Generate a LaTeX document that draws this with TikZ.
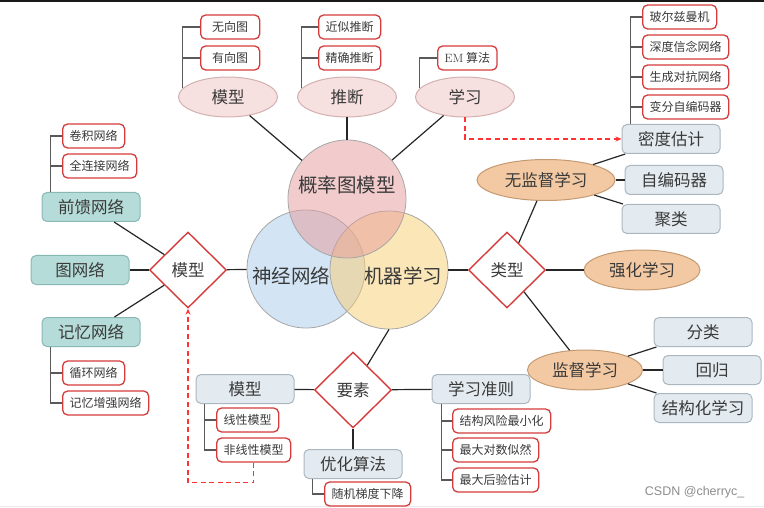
\documentclass[tikz,border=0pt]{standalone}
\usepackage{fontspec}
\setsansfont{Liberation Sans}
\newfontfamily\cjk{Noto Sans CJK SC}
\usetikzlibrary{shapes.geometric,arrows.meta}
\definecolor{redline}{RGB}{214,59,59}
\definecolor{txt}{RGB}{58,58,58}
\definecolor{grayfill}{RGB}{228,235,240}
\definecolor{grayline}{RGB}{170,183,192}
\definecolor{tealfill}{RGB}{181,220,216}
\definecolor{tealline}{RGB}{136,184,180}
\definecolor{peachfill}{RGB}{242,201,163}
\definecolor{peachline}{RGB}{196,154,114}
\definecolor{pinkfill}{RGB}{247,224,224}
\definecolor{pinkline}{RGB}{213,176,176}
\definecolor{vennpink}{RGB}{230,154,154}
\definecolor{vennblue}{RGB}{167,201,234}
\definecolor{vennyellow}{RGB}{247,205,113}
\tikzset{
  leaf/.style={draw=redline, line width=1.3pt, fill=white, rounded corners=5pt,
    anchor=west, inner xsep=7pt, inner ysep=0pt, minimum height=24pt,
    text=txt, font=\cjk\fontsize{12}{14}\selectfont},
  box/.style={draw=grayline, line width=1pt, fill=grayfill, rounded corners=5pt,
    inner sep=0pt, minimum width=98pt, minimum height=29pt,
    text=txt, font=\cjk\fontsize{16.5}{18}\selectfont},
  teal/.style={box, draw=tealline, fill=tealfill},
  oval/.style={ellipse, draw=peachline, line width=1pt, fill=peachfill, inner sep=0pt,
    minimum height=40pt, text=txt, font=\cjk\fontsize{16.5}{18}\selectfont},
  topoval/.style={oval, draw=pinkline, fill=pinkfill, minimum width=99pt},
  diam/.style={diamond, draw=redline, line width=1.4pt, fill=white, inner sep=0pt,
    minimum width=77pt, minimum height=76pt,
    text=txt, font=\cjk\fontsize{16.5}{18}\selectfont},
  venn/.style={circle, draw=black!35, line width=.8pt, fill opacity=.5, minimum size=118pt},
  venntext/.style={text=txt, font=\cjk\fontsize{19.5}{22}\selectfont},
  conn/.style={draw=black!85, line width=1.2pt},
  bracket/.style={draw=black!65, line width=1.3pt},
  dasharrow/.style={draw=red!80, line width=1.2pt, dash pattern=on 5pt off 3.5pt,
    -{Stealth[length=6pt,width=5pt]}},
}
\begin{document}
\begin{tikzpicture}[x=1pt,y=-1pt]
  \useasboundingbox (0,0) rectangle (764,508);
  \fill[black!90] (0,0) rectangle (764,2.3);
  \draw[black!8, line width=.8pt] (0,506) -- (764,506);

  \node[venn, fill=vennblue] (nn) at (306,269) {};
  \node[venn, fill=vennyellow] (ml) at (389,270) {};
  \node[venn, fill=vennpink] (pgm) at (347,199) {};
  \node[venntext] at (347,185) {概率图模型};
  \node[venntext] at (291,276) {神经网络};
  \node[venntext] at (403,276) {机器学习};

  \node[topoval] (topM) at (228,97) {模型};
  \node[topoval] (topI) at (347,97) {推断};
  \node[topoval] (topL) at (465,97) {学习};
  \node[leaf, minimum width=59pt] (undir) at (200,27) {无向图};
  \node[leaf, minimum width=59pt] (dir) at (200,58) {有向图};
  \node[leaf] (approx) at (318,27) {近似推断};
  \node[leaf] (exact) at (318,58) {精确推断};
  \node[leaf, minimum width=58pt] (em) at (437,58) {{\rmfamily EM} 算法};

  \node[box] (dens) at (671,139) {密度估计};
  \node[box] (autoenc) at (674,180) {自编码器};
  \node[box] (clust) at (671,219) {聚类};
  \node[leaf] (boltz) at (642,17) {玻尔兹曼机};
  \node[leaf] (dbn) at (642,47) {深度信念网络};
  \node[leaf] (gan) at (642,77) {生成对抗网络};
  \node[leaf] (vae) at (642,107) {变分自编码器};

  \node[oval, minimum width=138pt, minimum height=41pt] (unsup) at (546,180) {无监督学习};
  \node[diam] (kind) at (507,270) {类型};
  \node[oval, minimum width=116pt] (reinf) at (642,270) {强化学习};
  \node[oval, minimum width=115pt] (sup) at (585,370) {监督学习};
  \node[box] (cls) at (703,332) {分类};
  \node[box] (reg) at (712,370) {回归};
  \node[box] (struct) at (703,408) {结构化学习};

  \node[diam] (nnmodel) at (188,270) {模型};
  \node[teal] (ff) at (91,207) {前馈网络};
  \node[teal] (gnn) at (80,270) {图网络};
  \node[teal] (mem) at (91,332) {记忆网络};
  \node[leaf] (conv) at (62,136) {卷积网络};
  \node[leaf] (fc) at (62,166) {全连接网络};
  \node[leaf] (rnn) at (62,373) {循环网络};
  \node[leaf] (mann) at (62,403) {记忆增强网络};

  \node[diam] (elem) at (353,390) {要素};
  \node[box] (emodel) at (245,389) {模型};
  \node[box] (crit) at (481,389) {学习准则};
  \node[box] (optim) at (353,464) {优化算法};
  \node[leaf] (lin) at (216,420) {线性模型};
  \node[leaf] (nonlin) at (216,450) {非线性模型};
  \node[leaf] (sgd) at (324,494) {随机梯度下降};
  \node[leaf] (srm) at (452,421) {结构风险最小化};
  \node[leaf] (mle) at (452,450) {最大对数似然};
  \node[leaf] (map) at (452,480) {最大后验估计};

  \begin{scope}[conn]
    \draw (topM) -- (pgm);
    \draw (topI) -- (pgm);
    \draw (topL) -- (pgm);
    \draw (unsup) -- (dens);
    \draw (unsup) -- (autoenc);
    \draw (unsup) -- (clust);
    \draw (ml) -- (kind);
    \draw (kind) -- (unsup);
    \draw (kind) -- (reinf);
    \draw (kind) -- (sup);
    \draw (sup) -- (cls);
    \draw (sup) -- (reg);
    \draw (sup) -- (struct);
    \draw (nnmodel) -- (nn);
    \draw (nnmodel) -- (ff);
    \draw (nnmodel) -- (gnn);
    \draw (nnmodel) -- (mem);
    \draw (ml.south) -- (elem.60);
    \draw (elem) -- (emodel);
    \draw (elem) -- (crit);
    \draw (elem) -- (optim);
  \end{scope}

  \begin{scope}[bracket]
    \draw (topM.169) |- (undir.west);
    \draw (topM.169) |- (dir.west);
    \draw (topI.169) |- (approx.west);
    \draw (topI.169) |- (exact.west);
    \draw (topL.169) |- (em.west);
    \draw ([xshift=9pt]dens.north west) |- (boltz.west);
    \draw ([xshift=9pt]dens.north west) |- (dbn.west);
    \draw ([xshift=9pt]dens.north west) |- (gan.west);
    \draw ([xshift=9pt]dens.north west) |- (vae.west);
    \draw ([xshift=9pt]ff.north west) |- (conv.west);
    \draw ([xshift=9pt]ff.north west) |- (fc.west);
    \draw ([xshift=9pt]mem.south west) |- (rnn.west);
    \draw ([xshift=9pt]mem.south west) |- (mann.west);
    \draw ([xshift=9pt]emodel.south west) |- (lin.west);
    \draw ([xshift=9pt]emodel.south west) |- (nonlin.west);
    \draw ([xshift=9pt]optim.south west) |- (sgd.west);
    \draw ([xshift=10pt]crit.south west) |- (srm.west);
    \draw ([xshift=10pt]crit.south west) |- (mle.west);
    \draw ([xshift=10pt]crit.south west) |- (map.west);
  \end{scope}

  \draw[dasharrow] (topL.south) |- (dens.west);
  \draw[dasharrow] (nonlin.south) -- ++(0,20) -| (nnmodel.south);

  \node[anchor=east, text=black!45, font=\sffamily\fontsize{12.5}{14}\selectfont] (mark) at (748,492) {CSDN @cherryc\_};
\end{tikzpicture}
\end{document}
